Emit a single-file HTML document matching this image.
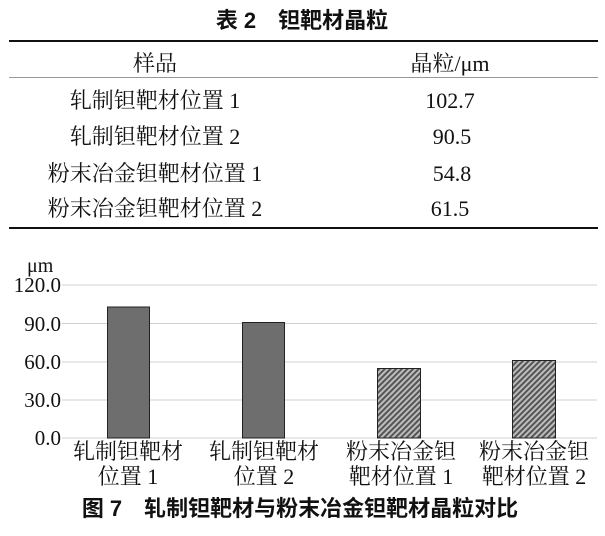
<!DOCTYPE html>
<html><head><meta charset="utf-8"><style>
body{margin:0;width:605px;height:531px;background:#fff;overflow:hidden}
svg text{font-family:"Liberation Serif","Noto Serif CJK SC",serif;fill:#111}
.b{font-family:"Liberation Sans","Noto Sans CJK SC",sans-serif;font-weight:bold}
</style></head><body>
<svg width="605" height="531" xmlns="http://www.w3.org/2000/svg">
<defs><pattern id="h" width="4" height="4" patternUnits="userSpaceOnUse" patternTransform="rotate(45)">
<rect width="4" height="4" fill="#bdbdbd"/><rect width="2" height="4" fill="#555"/></pattern></defs>
<text x="302" y="28" text-anchor="middle" font-size="22" class="b">表 2　钽靶材晶粒</text>
<line x1="9" y1="41" x2="598" y2="41" stroke="#111" stroke-width="2"/>
<line x1="9" y1="77.5" x2="598" y2="77.5" stroke="#999" stroke-width="1"/>
<line x1="9" y1="228" x2="598" y2="228" stroke="#111" stroke-width="2"/>
<g font-size="22" text-anchor="middle">
<text x="155" y="71">样品</text><text x="450" y="71">晶粒/μm</text>
<text x="155" y="108">轧制钽靶材位置 1</text><text x="450" y="108">102.7</text>
<text x="155" y="144">轧制钽靶材位置 2</text><text x="452" y="144">90.5</text>
<text x="155" y="181">粉末冶金钽靶材位置 1</text><text x="452" y="181">54.8</text>
<text x="155" y="216">粉末冶金钽靶材位置 2</text><text x="450" y="216">61.5</text>
</g>
<g stroke="#d0d0d0" stroke-width="1">
<line x1="62" y1="285" x2="597" y2="285"/><line x1="62" y1="323.5" x2="597" y2="323.5"/>
<line x1="62" y1="362" x2="597" y2="362"/><line x1="62" y1="400" x2="597" y2="400"/>
<line x1="62" y1="438" x2="597" y2="438"/></g>
<g font-size="21" text-anchor="end">
<text x="61" y="292">120.0</text><text x="61" y="331">90.0</text><text x="61" y="369">60.0</text>
<text x="61" y="407">30.0</text><text x="61" y="445">0.0</text></g>
<text x="27" y="272" font-size="20">μm</text>
<rect x="107.5" y="307" width="42" height="131" fill="#6e6e6e" stroke="#222"/>
<rect x="242.5" y="322.5" width="42" height="115.5" fill="#6e6e6e" stroke="#222"/>
<rect x="377.5" y="368.5" width="43" height="69.5" fill="url(#h)" stroke="#222"/>
<rect x="512.5" y="360.5" width="43" height="77.5" fill="url(#h)" stroke="#222"/>
<g font-size="22" text-anchor="middle">
<text x="128" y="459">轧制钽靶材</text><text x="128" y="484">位置 1</text>
<text x="264" y="459">轧制钽靶材</text><text x="264" y="484">位置 2</text>
<text x="401" y="459">粉末冶金钽</text><text x="401" y="484">靶材位置 1</text>
<text x="534" y="459">粉末冶金钽</text><text x="534" y="484">靶材位置 2</text>
</g>
<text x="300" y="516" text-anchor="middle" font-size="22" class="b">图 7　轧制钽靶材与粉末冶金钽靶材晶粒对比</text>
</svg>
</body></html>
